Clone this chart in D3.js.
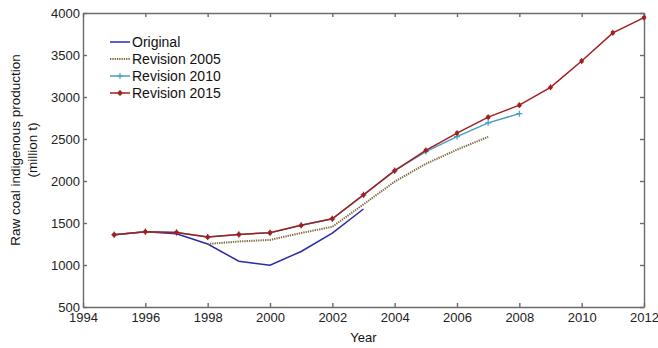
<!DOCTYPE html>
<html>
<head>
<meta charset="utf-8">
<script src="https://cdn.jsdelivr.net/npm/d3@7"></script>
<style>
  body { margin: 0; background: #fff; }
  svg { font-family: "Liberation Sans", Arial, sans-serif; }
</style>
</head>
<body>
<svg id="chart" width="658" height="348"></svg>
<script>
// years and series values (million t)
const yearsOriginal = [1995, 1996, 1997, 1998, 1999, 2000, 2001, 2002, 2003];
const original = [1361, 1397, 1373, 1250, 1045, 998, 1161, 1380, 1667];

const years2005 = [1998, 1999, 2000, 2001, 2002, 2003, 2004, 2005, 2006, 2007];
const revision2005 = [1250, 1280, 1299, 1381, 1455, 1722, 1992, 2205, 2373, 2526];

const years2010 = [1995, 1996, 1997, 1998, 1999, 2000, 2001, 2002, 2003, 2004, 2005, 2006, 2007, 2008];
const revision2010 = [1361, 1397, 1388, 1332, 1364, 1384, 1472, 1550, 1835, 2123, 2350, 2529, 2692, 2802];

const years2015 = [1995, 1996, 1997, 1998, 1999, 2000, 2001, 2002, 2003, 2004, 2005, 2006, 2007, 2008, 2009, 2010, 2011, 2012];
const revision2015 = [1361, 1397, 1388, 1332, 1364, 1384, 1472, 1550, 1835, 2123, 2365, 2570, 2760, 2903, 3115, 3428, 3764, 3945];

const xTicks = [1994, 1996, 1998, 2000, 2002, 2004, 2006, 2008, 2010, 2012];
const yTicks = [500, 1000, 1500, 2000, 2500, 3000, 3500, 4000];

const size = {
    width: 658,
    height: 348,
    margin: { top: 13, right: 14, bottom: 41, left: 83 }
};
const svg = d3.select('#chart');
const axisColor = "#6b6b6b";

const x = d3.scaleLinear()
    .domain([1994, 2012])
    .range([size.margin.left, size.width - size.margin.right]);
const y = d3.scaleLinear()
    .domain([500, 4000])
    .range([size.height - size.margin.bottom, size.margin.top]);

const x0 = x.range()[0], x1 = x.range()[1];
const y0 = y.range()[0], y1 = y.range()[1];

// axes (matlab style box, ticks inside)
const gBottom = svg.append("g")
    .attr("transform", `translate(0, ${y0})`)
    .call(d3.axisBottom(x).tickValues(xTicks).tickFormat(d3.format("d")).tickSizeInner(-4).tickSizeOuter(0).tickPadding(6));
const gTop = svg.append("g")
    .attr("transform", `translate(0, ${y1})`)
    .call(d3.axisTop(x).tickValues(xTicks).tickFormat("").tickSizeInner(-4).tickSizeOuter(0));
const gLeft = svg.append("g")
    .attr("transform", `translate(${x0}, 0)`)
    .call(d3.axisLeft(y).tickValues(yTicks).tickFormat(d3.format("d")).tickSizeInner(-4).tickSizeOuter(0).tickPadding(3));
const gRight = svg.append("g")
    .attr("transform", `translate(${x1}, 0)`)
    .call(d3.axisRight(y).tickValues(yTicks).tickFormat("").tickSizeInner(-4).tickSizeOuter(0));

[gBottom, gTop, gLeft, gRight].forEach(g => {
    g.selectAll("path, line").attr("stroke", axisColor).attr("stroke-width", 1.4);
    g.selectAll("text").attr("fill", "#222").style("font-size", "13px");
});

// lines
const line = d3.line().x(d => x(d[0])).y(d => y(d[1]));
const series = [
    { name: "Original", years: yearsOriginal, values: original, color: "#2b2ba6", dash: null, marker: null },
    { name: "Revision 2005", years: years2005, values: revision2005, color: "#7d6a3f", dash: "1.3,1", marker: null },
    { name: "Revision 2010", years: years2010, values: revision2010, color: "#4a9fbf", dash: null, marker: "plus" },
    { name: "Revision 2015", years: years2015, values: revision2015, color: "#a31f1f", dash: null, marker: "dot" }
];

function drawMarker(g, type, cx, cy, color) {
    if (type === "plus") {
        g.append("path")
            .attr("d", `M${cx - 3},${cy}H${cx + 3}M${cx},${cy - 3}V${cy + 3}`)
            .attr("stroke", color).attr("stroke-width", 1.2);
    } else if (type === "dot") {
        g.append("circle").attr("cx", cx).attr("cy", cy).attr("r", 2.2).attr("fill", color);
        g.append("path")
            .attr("d", `M${cx},${cy - 3}V${cy + 3}`)
            .attr("stroke", color).attr("stroke-width", 1);
    }
}

series.forEach(s => {
    const pts = s.years.map((yr, i) => [yr, s.values[i]]);
    svg.append("path")
        .datum(pts)
        .attr("d", line)
        .attr("fill", "none")
        .attr("stroke", s.color)
        .attr("stroke-width", s.dash ? 2 : 1.5)
        .attr("stroke-dasharray", s.dash);
    if (s.marker) {
        const g = svg.append("g");
        pts.forEach(p => drawMarker(g, s.marker, x(p[0]), y(p[1]), s.color));
    }
});

// legend
const legend = svg.append("g").attr("transform", "translate(110, 42)");
series.forEach((s, i) => {
    const row = legend.append("g").attr("transform", `translate(0, ${i * 17})`);
    row.append("line")
        .attr("x1", 0).attr("x2", 20).attr("y1", 0).attr("y2", 0)
        .attr("stroke", s.color)
        .attr("stroke-width", s.dash ? 2 : 1.5)
        .attr("stroke-dasharray", s.dash);
    if (s.marker) drawMarker(row, s.marker, 10, 0, s.color);
    row.append("text")
        .attr("x", 22).attr("y", 5)
        .style("font-size", "14px")
        .attr("fill", "#111")
        .text(s.name);
});

// labels
svg.append("text")
    .attr("x", (x0 + x1) / 2)
    .attr("y", 342)
    .attr("text-anchor", "middle")
    .style("font-size", "13px")
    .attr("fill", "#111")
    .text("Year");

const labelMid = 150;
svg.append("text")
    .attr("transform", "rotate(-90)")
    .attr("x", -labelMid)
    .attr("y", 20)
    .attr("text-anchor", "middle")
    .style("font-size", "13.5px")
    .attr("fill", "#111")
    .text("Raw coal indigenous production");

svg.append("text")
    .attr("transform", "rotate(-90)")
    .attr("x", -labelMid)
    .attr("y", 37)
    .attr("text-anchor", "middle")
    .style("font-size", "13.5px")
    .attr("fill", "#111")
    .text("(million t)");
</script>
</body>
</html>
